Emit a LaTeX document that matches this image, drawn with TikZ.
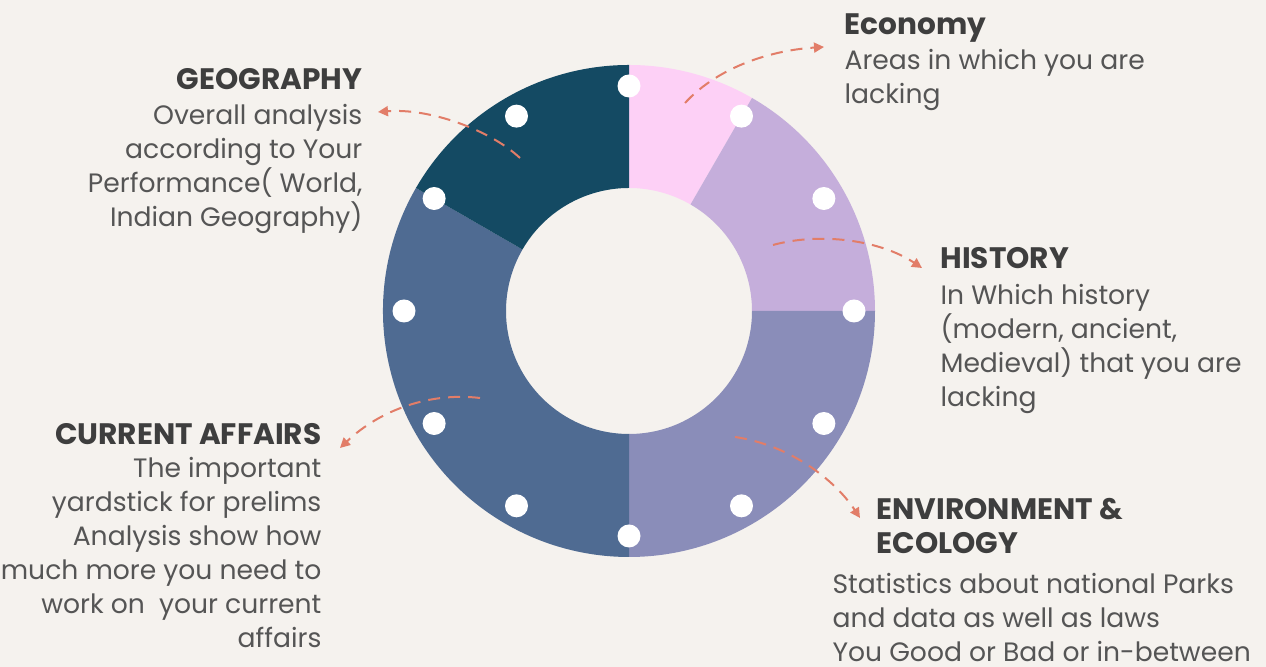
\documentclass[tikz,border=0pt]{standalone}
\usepackage{fontspec}
\setmainfont{Poppins}
\usetikzlibrary{arrows.meta}

\definecolor{bg}{HTML}{F5F2EE}
\definecolor{ecocol}{HTML}{FDD0F6}
\definecolor{hiscol}{HTML}{C5AEDB}
\definecolor{envcol}{HTML}{8A8DB9}
\definecolor{curcol}{HTML}{4F6B92}
\definecolor{geocol}{HTML}{144A63}
\definecolor{linkcol}{HTML}{E27D68}
\definecolor{titlecol}{HTML}{3E3E3E}
\definecolor{bodycol}{HTML}{555555}

\begin{document}
\begin{tikzpicture}[x=0.5pt,y=0.5pt,>={Triangle[length=5pt,width=5pt]},
                    semithick]

  \tikzstyle{title}=[inner sep=0pt,text=titlecol,font=\fontsize{14.8}{17}\selectfont\bfseries]
  \tikzstyle{body}=[inner sep=0pt,text=bodycol,font=\fontsize{13.3}{17}\selectfont]
  \tikzstyle{link}=[->,linkcol,line width=1pt,dash pattern=on 6pt off 4pt]

  \fill[bg] (0,0) rectangle (1266,667);
  \useasboundingbox (0,0) rectangle (1266,667);

  \begin{scope}[shift={(629,356)}]
    \foreach \a/\b/\c in {60/90/ecocol, 0/60/hiscol, -90/0/envcol,
                          150/270/curcol, 90/150/geocol}
      \fill[\c] (\a:246) arc[start angle=\a,end angle=\b,radius=246]
                -- (\b:123) arc[start angle=\b,end angle=\a,radius=123] -- cycle;
    \foreach \a in {0,30,...,330}
      \fill[white] (\a:225) circle[radius=11.5];
  \end{scope}

  \node[title,anchor=base east]  (GEO)  at (363,577) {GEOGRAPHY};
  \node[body,anchor=base east,align=right] (GEOt) at (363,440)
    {Overall analysis\\ according to Your\\ Performance( World,\\ Indian Geography)};

  \node[title,anchor=base west]  (ECO)  at (844,632) {Economy};
  \node[body,anchor=base west,align=left] (ECOt) at (844,563)
    {Areas in which you are\\ lacking};

  \node[title,anchor=base west]  (HIS)  at (940,398) {HISTORY};
  \node[body,anchor=base west,align=left] (HISt) at (940,260)
    {In Which history\\ (modern, ancient,\\ Medieval) that you are\\ lacking};

  \node[title,anchor=base east]  (CUR)  at (322,222) {CURRENT AFFAIRS};
  \node[body,anchor=base east,align=right] (CURt) at (322,19)
    {The important\\ yardstick for prelims\hspace*{0.3em}\\ Analysis show how\\
     much more you need to\\ work on\ \ your current\\ affairs};

  \node[title,anchor=base west,align=left] (ENV) at (876,113) {ENVIRONMENT \&\\ ECOLOGY};
  \node[body,anchor=base west,align=left] (ENVt) at (832,5)
    {Statistics about national Parks\\ and data as well as laws\\ You Good or Bad or in-between};

  \coordinate (ECOs) at (685,564);  \coordinate (ECOe) at (824,620);
  \coordinate (GEOs) at (520,509);  \coordinate (GEOe) at (378,555);
  \coordinate (HISs) at (773,422);  \coordinate (HISe) at (922,399);
  \coordinate (CURs) at (480,269);  \coordinate (CURe) at (340,219);
  \coordinate (ENVs) at (735,230);  \coordinate (ENVe) at (860,149);

  \draw[link] (ECOs) .. controls (720,602) and (775,617) .. (ECOe);
  \draw[link] (GEOs) .. controls (490,537) and (430,559) .. (GEOe);
  \draw[link] (HISs) .. controls (820,435) and (880,427) .. (HISe);
  \draw[link] (CURs) .. controls (430,275) and (380,257) .. (CURe);
  \draw[link] (ENVs) .. controls (790,222) and (835,187) .. (ENVe);
\end{tikzpicture}
\end{document}
